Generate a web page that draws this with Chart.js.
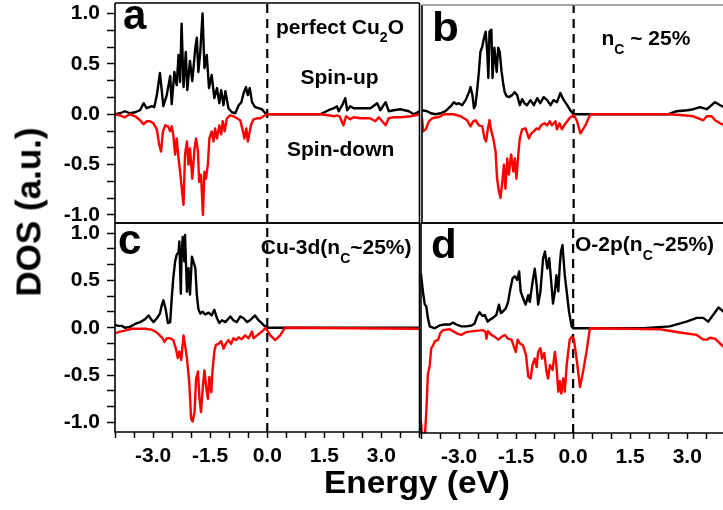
<!DOCTYPE html>
<html><head><meta charset="utf-8">
<script src="https://cdn.jsdelivr.net/npm/chart.js@4.4.1/dist/chart.umd.min.js"></script>
<style>
html,body{margin:0;padding:0;width:723px;height:510px;overflow:hidden;background:#fff;}
body{position:relative;}
canvas{position:absolute;}
.t{position:absolute;font-family:'Liberation Sans',Arial,Helvetica,sans-serif;font-weight:bold;line-height:1;white-space:nowrap;color:#000;}
.sub{font-size:14px;position:relative;top:8.5px;}
</style></head>
<body>
<canvas id="cA"></canvas>
<canvas id="cB"></canvas>
<canvas id="cC"></canvas>
<canvas id="cD"></canvas>

<div class="t" style="left:123px;top:-5.6px;font-size:42px;">a</div>
<div class="t" style="left:432px;top:6.6px;font-size:40px;transform:scaleX(1.1);transform-origin:left;">b</div>
<div class="t" style="left:118px;top:219.4px;font-size:42px;">c</div>
<div class="t" style="left:431px;top:224.1px;font-size:40px;transform:scaleX(1.05);transform-origin:left;">d</div>

<div class="t" style="left:276px;top:15.5px;font-size:21px;">perfect Cu<span class="sub">2</span>O</div>
<div class="t" style="left:300.5px;top:65.5px;font-size:21px;">Spin-up</div>
<div class="t" style="left:287px;top:138.2px;font-size:21px;">Spin-down</div>
<div class="t" style="left:601.4px;top:27.2px;font-size:21px;">n<span class="sub">C</span> ~ 25%</div>
<div class="t" style="left:260.8px;top:236.2px;font-size:21px;">Cu-3d(n<span class="sub">C</span>~25%)</div>
<div class="t" style="left:575px;top:233.2px;font-size:21px;">O-2p(n<span class="sub">C</span>~25%)</div>

<div class="t" style="left:27.6px;top:211.5px;font-size:35px;transform:translate(-50%,-50%) rotate(-90deg);">DOS (a.u.)</div>
<div class="t" style="left:416.5px;top:466.8px;font-size:31px;transform:translateX(-50%) scaleX(1.08);">Energy (eV)</div>

<script>
// ---------------- data ----------------
const E_RANGE = [-4, 4];
const E_TICKS = [-4,-3.5,-3,-2.5,-2,-1.5,-1,-0.5,0,0.5,1,1.5,2,2.5,3,3.5,4];
const E_LABELS = [-3,-1.5,0,1.5,3];
const DOS_TICKS = [-1,-5/6,-2/3,-0.5,-1/3,-1/6,0,1/6,1/3,0.5,2/3,5/6,1];
const DOS_LABELS = [-1,-0.5,0,0.5,1];
const FERMI = 0;

const A_Y = [-1.08, 1.105];
const B_Y = [-1.08, 1.085];
const C_Y = [-1.10, 1.106];
const D_Y = [-1.106, 1.112];

// panel a: perfect Cu2O  [energy, DOS]
const A_UP = [[-4.0,0.0],[-3.87,0.01],[-3.74,0.03],[-3.61,0.01],[-3.47,0.02],[-3.34,0.04],[-3.25,0.11],[-3.17,0.06],[-3.03,0.08],[-2.97,0.07],[-2.90,0.19],[-2.82,0.41],[-2.73,0.08],[-2.64,0.19],[-2.55,0.38],[-2.51,0.10],[-2.44,0.42],[-2.38,0.29],[-2.33,0.59],[-2.29,0.32],[-2.25,0.90],[-2.20,0.27],[-2.14,0.62],[-2.10,0.24],[-2.03,0.53],[-1.97,0.33],[-1.89,0.66],[-1.85,0.76],[-1.81,0.42],[-1.76,0.62],[-1.70,1.00],[-1.65,0.46],[-1.59,0.59],[-1.53,0.26],[-1.46,0.39],[-1.39,0.16],[-1.32,0.26],[-1.26,0.11],[-1.21,0.24],[-1.15,0.09],[-1.10,0.23],[-1.02,0.06],[-0.93,0.02],[-0.84,0.01],[-0.75,0.09],[-0.68,0.12],[-0.62,0.21],[-0.56,0.27],[-0.51,0.19],[-0.46,0.26],[-0.40,0.12],[-0.32,0.07],[-0.23,0.06],[-0.14,0.05],[-0.05,0.01],[0.0,0.0],[1.39,0.0],[1.61,0.04],[1.75,0.06],[1.83,0.08],[1.88,0.03],[1.97,0.09],[2.05,0.16],[2.10,0.04],[2.18,0.08],[2.27,0.06],[2.40,0.06],[2.71,0.06],[2.89,0.11],[2.97,0.04],[3.11,0.12],[3.19,0.03],[3.32,0.04],[3.50,0.05],[3.72,0.03],[3.85,0.0],[4.0,0.03]];
const A_DN = [[-4.0,0.0],[-3.87,-0.01],[-3.74,-0.03],[-3.61,0.0],[-3.47,-0.02],[-3.34,-0.06],[-3.25,-0.10],[-3.17,-0.07],[-3.08,-0.07],[-2.99,-0.09],[-2.90,-0.15],[-2.84,-0.30],[-2.79,-0.37],[-2.74,-0.17],[-2.68,-0.11],[-2.61,-0.12],[-2.55,-0.17],[-2.51,-0.12],[-2.47,-0.20],[-2.42,-0.40],[-2.38,-0.24],[-2.33,-0.44],[-2.29,-0.57],[-2.25,-0.72],[-2.20,-0.90],[-2.16,-0.40],[-2.11,-0.27],[-2.07,-0.50],[-2.03,-0.34],[-1.97,-0.64],[-1.91,-0.34],[-1.87,-0.24],[-1.82,-0.37],[-1.79,-0.67],[-1.74,-0.60],[-1.69,-1.00],[-1.65,-0.57],[-1.61,-0.64],[-1.56,-0.50],[-1.52,-0.24],[-1.46,-0.17],[-1.41,-0.27],[-1.37,-0.14],[-1.32,-0.24],[-1.26,-0.11],[-1.21,-0.20],[-1.17,-0.07],[-1.12,-0.17],[-1.06,-0.04],[-0.97,-0.01],[-0.89,-0.02],[-0.80,-0.04],[-0.71,-0.06],[-0.65,-0.15],[-0.60,-0.24],[-0.55,-0.14],[-0.51,-0.27],[-0.46,-0.17],[-0.42,-0.10],[-0.36,-0.05],[-0.27,-0.04],[-0.18,-0.04],[-0.10,-0.02],[0.0,0.0],[1.39,0.0],[1.61,-0.01],[1.75,-0.02],[1.83,-0.01],[1.90,-0.02],[2.00,-0.11],[2.07,-0.02],[2.18,-0.05],[2.27,-0.03],[2.45,-0.04],[2.70,-0.04],[2.84,-0.07],[2.93,-0.03],[3.11,-0.11],[3.19,-0.04],[3.32,-0.03],[3.50,-0.03],[3.77,-0.02],[4.0,0.0]];

// panel b: nC ~ 25%
const B_UP = [[-4.0,0.04],[-3.86,0.03],[-3.77,0.01],[-3.64,0.0],[-3.51,0.01],[-3.38,0.03],[-3.24,0.08],[-3.16,0.12],[-3.09,0.10],[-3.03,0.11],[-2.94,0.09],[-2.85,0.14],[-2.76,0.22],[-2.72,0.27],[-2.67,0.19],[-2.63,0.06],[-2.59,0.09],[-2.54,0.26],[-2.50,0.42],[-2.46,0.62],[-2.41,0.67],[-2.37,0.75],[-2.32,0.82],[-2.28,0.62],[-2.25,0.36],[-2.22,0.82],[-2.17,0.84],[-2.14,0.36],[-2.09,0.66],[-2.03,0.42],[-1.99,0.66],[-1.95,0.62],[-1.90,0.42],[-1.86,0.31],[-1.82,0.22],[-1.77,0.18],[-1.71,0.17],[-1.62,0.19],[-1.56,0.22],[-1.49,0.19],[-1.42,0.09],[-1.36,0.15],[-1.30,0.11],[-1.23,0.09],[-1.14,0.14],[-1.05,0.09],[-0.96,0.16],[-0.88,0.11],[-0.79,0.17],[-0.70,0.14],[-0.61,0.09],[-0.53,0.14],[-0.44,0.12],[-0.35,0.21],[-0.26,0.14],[-0.17,0.09],[-0.09,0.04],[0.0,0.0],[2.5,0.0],[2.72,0.03],[3.0,0.04],[3.16,0.05],[3.33,0.07],[3.51,0.05],[3.73,0.12],[3.91,0.08],[4.0,0.08]];
const B_DN = [[-4.0,-0.04],[-3.97,-0.17],[-3.90,-0.15],[-3.82,-0.07],[-3.73,-0.04],[-3.59,-0.03],[-3.51,-0.02],[-3.42,0.0],[-3.16,0.0],[-2.98,-0.02],[-2.81,-0.06],[-2.72,-0.12],[-2.65,-0.07],[-2.59,-0.06],[-2.50,-0.11],[-2.41,-0.12],[-2.35,-0.24],[-2.31,-0.27],[-2.26,-0.14],[-2.22,-0.06],[-2.17,-0.17],[-2.12,-0.24],[-2.06,-0.37],[-2.02,-0.64],[-1.97,-0.77],[-1.93,-0.83],[-1.88,-0.67],[-1.84,-0.50],[-1.80,-0.74],[-1.75,-0.44],[-1.71,-0.60],[-1.65,-0.40],[-1.59,-0.57],[-1.55,-0.44],[-1.51,-0.64],[-1.46,-0.40],[-1.42,-0.24],[-1.36,-0.15],[-1.27,-0.14],[-1.18,-0.24],[-1.12,-0.19],[-1.05,-0.17],[-0.98,-0.14],[-0.92,-0.15],[-0.86,-0.11],[-0.77,-0.09],[-0.70,-0.11],[-0.63,-0.07],[-0.57,-0.11],[-0.48,-0.07],[-0.44,-0.15],[-0.37,-0.09],[-0.31,-0.15],[-0.25,-0.11],[-0.17,-0.07],[-0.09,-0.03],[0.01,-0.01],[0.09,-0.07],[0.18,-0.19],[0.31,-0.11],[0.44,0.0],[2.5,0.0],[2.9,-0.01],[3.16,-0.02],[3.42,-0.06],[3.51,-0.02],[3.64,-0.02],[3.73,-0.06],[3.91,-0.10],[4.0,-0.10]];

// panel c: Cu-3d (nC ~ 25%)
const C_UP = [[-4.0,0.03],[-3.91,0.02],[-3.82,0.02],[-3.74,0.0],[-3.61,0.01],[-3.47,0.04],[-3.34,0.06],[-3.21,0.09],[-3.12,0.13],[-3.05,0.09],[-2.99,0.06],[-2.90,0.10],[-2.82,0.15],[-2.77,0.24],[-2.73,0.29],[-2.67,0.20],[-2.61,0.05],[-2.55,0.06],[-2.51,0.31],[-2.47,0.52],[-2.42,0.70],[-2.38,0.77],[-2.33,0.80],[-2.31,0.91],[-2.27,0.36],[-2.25,0.80],[-2.22,0.96],[-2.18,0.70],[-2.16,0.98],[-2.11,0.38],[-2.07,0.63],[-2.03,0.35],[-1.98,0.75],[-1.94,0.70],[-1.89,0.63],[-1.85,0.35],[-1.81,0.20],[-1.76,0.15],[-1.70,0.17],[-1.63,0.14],[-1.54,0.16],[-1.46,0.13],[-1.39,0.19],[-1.32,0.10],[-1.26,0.05],[-1.19,0.08],[-1.10,0.06],[-0.97,0.12],[-0.89,0.08],[-0.80,0.06],[-0.71,0.12],[-0.62,0.10],[-0.53,0.06],[-0.45,0.08],[-0.32,0.13],[-0.23,0.08],[-0.10,0.03],[0.0,0.0],[4.0,0.0]];
const C_DN = [[-4.0,-0.06],[-3.87,-0.04],[-3.74,-0.03],[-3.56,-0.01],[-3.39,-0.01],[-3.21,-0.01],[-3.03,-0.02],[-2.90,-0.05],[-2.77,-0.10],[-2.70,-0.15],[-2.64,-0.11],[-2.55,-0.11],[-2.47,-0.13],[-2.40,-0.22],[-2.35,-0.32],[-2.31,-0.25],[-2.26,-0.34],[-2.20,-0.08],[-2.16,-0.18],[-2.11,-0.32],[-2.05,-0.57],[-2.00,-0.96],[-1.96,-0.99],[-1.91,-0.89],[-1.87,-0.54],[-1.82,-0.46],[-1.78,-0.75],[-1.74,-0.89],[-1.69,-0.61],[-1.65,-0.45],[-1.61,-0.61],[-1.56,-0.75],[-1.52,-0.52],[-1.47,-0.68],[-1.44,-0.46],[-1.39,-0.25],[-1.35,-0.18],[-1.28,-0.17],[-1.21,-0.14],[-1.15,-0.22],[-1.09,-0.17],[-1.02,-0.13],[-0.95,-0.17],[-0.89,-0.11],[-0.82,-0.13],[-0.75,-0.10],[-0.67,-0.12],[-0.58,-0.08],[-0.49,-0.11],[-0.40,-0.04],[-0.36,-0.11],[-0.27,-0.08],[-0.14,-0.04],[-0.04,0.0],[0.08,-0.08],[0.21,-0.13],[0.34,-0.08],[0.46,0.0],[4.0,-0.01]];

// panel d: O-2p (nC ~ 25%)
const D_UP = [[-4.0,0.57],[-3.95,0.39],[-3.90,0.25],[-3.86,0.23],[-3.82,0.11],[-3.77,0.02],[-3.64,0.0],[-3.51,0.03],[-3.38,0.04],[-3.24,0.04],[-3.16,0.06],[-3.07,0.04],[-2.94,0.02],[-2.81,0.02],[-2.67,0.03],[-2.59,0.05],[-2.53,0.12],[-2.46,0.17],[-2.38,0.13],[-2.32,0.14],[-2.25,0.07],[-2.19,0.09],[-2.11,0.11],[-2.02,0.14],[-1.95,0.25],[-1.90,0.16],[-1.84,0.18],[-1.77,0.21],[-1.71,0.28],[-1.65,0.42],[-1.59,0.53],[-1.53,0.55],[-1.47,0.51],[-1.42,0.60],[-1.38,0.39],[-1.32,0.32],[-1.25,0.25],[-1.18,0.35],[-1.14,0.28],[-1.07,0.48],[-1.01,0.63],[-0.96,0.46],[-0.92,0.25],[-0.86,0.39],[-0.79,0.74],[-0.74,0.81],[-0.68,0.63],[-0.63,0.74],[-0.57,0.46],[-0.53,0.26],[-0.48,0.39],[-0.44,0.56],[-0.39,0.39],[-0.35,0.67],[-0.32,0.81],[-0.28,0.88],[-0.22,0.56],[-0.17,0.39],[-0.11,0.18],[-0.04,0.02],[0.0,0.0],[1.84,0.0],[2.54,0.02],[2.98,0.07],[3.25,0.11],[3.42,0.11],[3.55,0.07],[3.68,0.14],[3.82,0.22],[3.94,0.18],[4.0,0.16]];
const D_DN = [[-4.0,-0.99],[-3.97,-1.15],[-3.90,-1.15],[-3.86,-0.88],[-3.82,-0.49],[-3.77,-0.39],[-3.73,-0.21],[-3.68,-0.18],[-3.64,-0.14],[-3.55,-0.12],[-3.49,-0.05],[-3.42,-0.02],[-3.24,-0.01],[-3.16,-0.03],[-3.03,-0.06],[-2.94,-0.07],[-2.81,-0.04],[-2.63,-0.03],[-2.37,-0.02],[-2.30,-0.04],[-2.28,-0.11],[-2.24,-0.03],[-2.15,-0.07],[-2.06,-0.09],[-1.97,-0.12],[-1.88,-0.09],[-1.80,-0.07],[-1.71,-0.11],[-1.62,-0.12],[-1.56,-0.19],[-1.51,-0.25],[-1.46,-0.12],[-1.40,-0.16],[-1.32,-0.18],[-1.24,-0.28],[-1.18,-0.51],[-1.12,-0.53],[-1.07,-0.39],[-1.01,-0.32],[-0.96,-0.41],[-0.92,-0.25],[-0.86,-0.21],[-0.82,-0.32],[-0.76,-0.26],[-0.70,-0.46],[-0.66,-0.53],[-0.61,-0.39],[-0.54,-0.44],[-0.48,-0.25],[-0.44,-0.39],[-0.39,-0.67],[-0.35,-0.56],[-0.31,-0.69],[-0.26,-0.53],[-0.22,-0.67],[-0.17,-0.39],[-0.13,-0.25],[-0.09,-0.12],[-0.04,-0.09],[0.02,-0.12],[0.09,-0.32],[0.18,-0.62],[0.26,-0.46],[0.35,-0.25],[0.44,0.0],[2.28,-0.01],[2.89,-0.05],[3.25,-0.07],[3.42,-0.12],[3.51,-0.12],[3.60,-0.10],[3.73,-0.11],[3.94,-0.19],[4.0,-0.20]];

// ---------------- layout (page pixels of each plot frame) ----------------
const LAYOUT = {
  a: {l:115, t:3,   r:419.5, b:223},
  b: {l:422, t:5,   r:725.3, b:223},
  c: {l:115, t:223, r:419.5, b:432},
  d: {l:421, t:223, r:725.3, b:433}
};

Chart.defaults.font.family = "'Liberation Sans', Arial, Helvetica, sans-serif";
Chart.defaults.font.weight = 'bold';
Chart.defaults.color = '#000';

const framePlugin = {
  id: 'frame',
  afterDraw(chart, args, opts) {
    const {ctx, chartArea: a} = chart;
    ctx.save();
    ctx.lineWidth = 1.6;
    ctx.strokeStyle = '#000';
    ctx.beginPath();
    ctx.moveTo(a.left, a.top); ctx.lineTo(a.left, a.bottom);
    ctx.lineTo(a.right, a.bottom); ctx.lineTo(a.right, a.top);
    ctx.stroke();
    ctx.strokeStyle = opts.topColor || '#000';
    ctx.beginPath(); ctx.moveTo(a.left, a.top); ctx.lineTo(a.right, a.top); ctx.stroke();
    ctx.restore();
  }
};

const toXY = arr => arr.map(p => ({x: p[0], y: p[1]}));
const near = (list, v) => list.some(l => Math.abs(l - v) < 1e-6);

function makePanel(id, box, up, dn, yRange, showY, showX, topColor) {
  const M = 30;
  const yW = showY ? box.l : 0;
  const xH = showX ? 45 : 0;
  const left = box.l - yW - M, top = box.t - M;
  const W = Math.ceil(box.r - left + M), H = Math.ceil(box.b - top + xH + M);
  const cv = document.getElementById(id);
  cv.width = W; cv.height = H;
  cv.style.left = left + 'px'; cv.style.top = top + 'px';
  cv.style.width = W + 'px'; cv.style.height = H + 'px';
  const pad = {left: M, top: M, right: W - (box.r - left), bottom: H - (box.b - top) - xH};
  const lineDs = (data, color) => ({data: toXY(data), borderColor: color, borderWidth: 2.4, pointRadius: 0,
    tension: 0, fill: false, borderJoinStyle: 'round', borderCapStyle: 'round'});
  return new Chart(cv, {
    type: 'line',
    data: {datasets: [
      lineDs(dn, '#ff0000'),
      lineDs(up, '#000000'),
      {data: [{x: FERMI, y: yRange[0]}, {x: FERMI, y: yRange[1]}], borderColor: '#000', borderWidth: 2.2,
       borderDash: [9, 6], pointRadius: 0, fill: false}
    ]},
    options: {
      responsive: false, animation: false, devicePixelRatio: 1,
      layout: {padding: pad, autoPadding: false},
      plugins: {legend: {display: false}, tooltip: {enabled: false}, frame: {topColor}},
      scales: {
        x: {type: 'linear', min: E_RANGE[0], max: E_RANGE[1], bounds: 'data', display: showX,
          afterBuildTicks: s => { s.ticks = E_TICKS.map(v => ({value: v})); },
          afterFit: s => { s.height = xH; },
          ticks: {autoSkip: false, maxRotation: 0, minRotation: 0, padding: 6, color: '#000',
            font: {size: 21, weight: 'bold'},
            callback: v => near(E_LABELS, v) ? Number(v).toFixed(1) : ''},
          grid: {display: true, drawOnChartArea: false, drawTicks: true, tickLength: 6, tickWidth: 1.5, tickColor: '#000'},
          border: {display: false}},
        y: {type: 'linear', min: yRange[0], max: yRange[1], bounds: 'data', display: showY,
          afterBuildTicks: s => { s.ticks = DOS_TICKS.map(v => ({value: v})); },
          afterFit: s => { s.width = yW; },
          ticks: {autoSkip: false, padding: 7, color: '#000', font: {size: 21, weight: 'bold'},
            callback: v => near(DOS_LABELS, v) ? Math.abs(v) < 1e-9 ? '0.0' : Number(v).toFixed(1) : ''},
          grid: {display: true, drawOnChartArea: false, drawTicks: true, tickLength: 8, tickWidth: 1.5, tickColor: '#000'},
          border: {display: false}}
      }
    },
    plugins: [framePlugin]
  });
}

makePanel('cA', LAYOUT.a, A_UP, A_DN, A_Y, true, false, '#000');
makePanel('cB', LAYOUT.b, B_UP, B_DN, B_Y, false, false, '#888');
makePanel('cC', LAYOUT.c, C_UP, C_DN, C_Y, true, true, '#000');
makePanel('cD', LAYOUT.d, D_UP, D_DN, D_Y, false, true, '#000');
</script>
</body></html>
